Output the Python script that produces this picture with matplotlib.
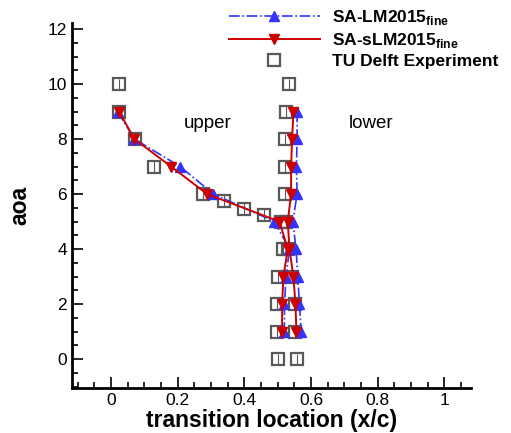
import matplotlib
matplotlib.use('Agg')
import matplotlib.pyplot as plt
import numpy as np

plt.rcParams['font.family'] = ['Liberation Sans', 'DejaVu Sans']
plt.rcParams['mathtext.fontset'] = 'custom'
plt.rcParams['mathtext.rm'] = 'Liberation Sans:bold'
plt.rcParams['mathtext.bf'] = 'Liberation Sans:bold'

# angle of attack for the model curves
aoa_model = [9, 8, 7, 6, 5, 4, 3, 2, 1]
# SA-LM2015 fine
lm_upper = [0.02, 0.07, 0.207, 0.307, 0.49, 0.535, 0.525, 0.52, 0.52]
lm_lower = [0.558, 0.558, 0.556, 0.558, 0.545, 0.555, 0.56, 0.565, 0.57]
# SA-sLM2015 fine
slm_upper = [0.024, 0.07, 0.18, 0.288, 0.505, 0.53, 0.517, 0.513, 0.513]
slm_lower = [0.547, 0.543, 0.54, 0.54, 0.53, 0.535, 0.547, 0.553, 0.556]

# TU Delft experiment
exp_up_x = [0.024, 0.024, 0.072, 0.13, 0.277, 0.34, 0.40, 0.46, 0.51, 0.515, 0.50, 0.497, 0.497, 0.50]
exp_up_y = [10, 9, 8, 7, 6, 5.75, 5.47, 5.25, 5, 4, 3, 2, 1, 0]
exp_lo_x = [0.535, 0.526, 0.523, 0.523, 0.523, 0.525, 0.53, 0.544, 0.553, 0.553, 0.558]
exp_lo_y = [10, 9, 8, 7, 6, 5, 4, 3, 2, 1, 0]

blue = (0.2, 0.2, 1.0)
red = (0.8, 0.0, 0.0)
gray = (0.35, 0.35, 0.35)

fig = plt.figure(figsize=(5.11, 4.33), dpi=100)
ax = fig.add_axes([0.141, 0.104, 0.781, 0.843])

ax.errorbar(exp_up_x + exp_lo_x, exp_up_y + exp_lo_y, yerr=0.2, fmt='s', ms=9,
            mfc='none', mec=gray, mew=1.6, ecolor=gray, elinewidth=0.8,
            capsize=0, zorder=2)
ax.plot([], [], 's', ms=9, mfc='none', mec=gray, mew=1.6, label='TU Delft Experiment')

ax.plot(lm_upper, aoa_model, '-.', color=blue, lw=1.2, marker='^', ms=7.5,
        label='SA-LM2015$_{\\rm fine}$', zorder=3)
ax.plot(lm_lower, aoa_model, '-.', color=blue, lw=1.2, marker='^', ms=7.5, zorder=3)
ax.plot(slm_upper, aoa_model, '-', color=red, lw=1.4, marker='v', ms=7.5,
        label='SA-sLM2015$_{\\rm fine}$', zorder=4)
ax.plot(slm_lower, aoa_model, '-', color=red, lw=1.4, marker='v', ms=7.5, zorder=4)

ax.text(0.29, 8.55, 'upper', fontsize=13.5, ha='center', va='center')
ax.text(0.78, 8.55, 'lower', fontsize=13.5, ha='center', va='center')

ax.set_xlim(-0.117, 1.08)
ax.set_ylim(-1.05, 12.22)
ax.set_xticks([0, 0.2, 0.4, 0.6, 0.8, 1])
ax.set_xticklabels(['0', '0.2', '0.4', '0.6', '0.8', '1'])
ax.set_yticks([0, 2, 4, 6, 8, 10, 12])
ax.set_xticks(np.arange(-0.1, 1.08, 0.05), minor=True)
ax.set_yticks(np.arange(-1, 12.1, 0.5), minor=True)
ax.tick_params(which='both', direction='in', width=1.2, labelsize=12.5)
ax.tick_params(which='major', length=8)
ax.tick_params(which='minor', length=4)
for s in ['top', 'right']:
    ax.spines[s].set_visible(False)
for s in ['left', 'bottom']:
    ax.spines[s].set_linewidth(2)

ax.set_xlabel('transition location (x/c)', fontsize=16.5, fontweight='bold', labelpad=1)
ax.set_ylabel('aoa', fontsize=16.5, fontweight='bold', labelpad=12)

h, l = ax.get_legend_handles_labels()
order = [1, 2, 0]
fig.legend([h[i] for i in order], [l[i] for i in order], loc='upper left',
           bbox_to_anchor=(0.425, 1.01), frameon=False, handlelength=5.2,
           handletextpad=0.7, labelspacing=0.22, borderpad=0.2,
           prop={'size': 12.5, 'weight': 'bold'})

fig.savefig('out.png', dpi=100)
